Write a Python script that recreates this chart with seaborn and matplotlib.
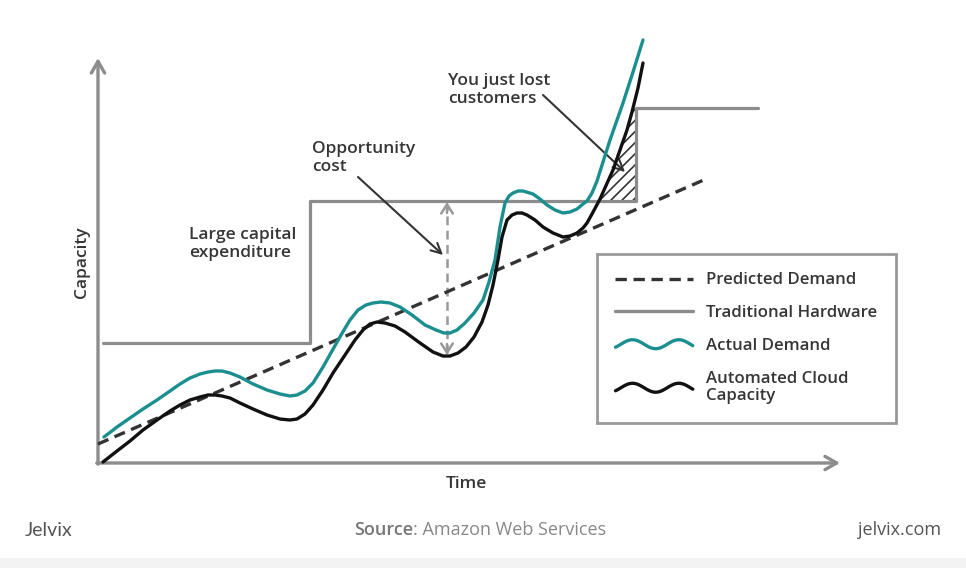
import numpy as np
import pandas as pd
import matplotlib
matplotlib.use("Agg")
import matplotlib.pyplot as plt
import seaborn as sns
from matplotlib.lines import Line2D
from matplotlib.legend_handler import HandlerBase

# ---------------- data (time units, capacity units) ----------------
time_actual = [6, 19, 32, 45, 59, 72, 82, 92, 102, 110, 117, 124, 132, 142, 155, 169, 182,
               192, 199, 207, 215, 225, 234, 243, 252, 260, 268, 275, 283, 292, 302, 314,
               327, 338, 346, 352, 359, 367, 376, 385, 391, 397, 402, 407, 411, 415, 420,
               425, 435, 442, 449, 457, 465, 472, 479, 485, 489, 494, 499, 505, 512, 525,
               535, 545]
cap_actual = [26, 36, 45, 54, 63, 72, 79, 85, 89, 91, 92, 92, 90, 86, 79, 73, 69,
              67, 68, 72, 80, 96, 112, 128, 143, 153, 158, 160, 161, 160, 156, 148,
              138, 133, 130, 130, 133, 140, 150, 163, 181, 203, 236, 260, 267, 270, 272,
              272, 269, 264, 258, 253, 250, 251, 254, 259, 262, 270, 282, 301, 323, 360,
              391, 423]

time_cloud = [5, 19, 32, 45, 59, 72, 82, 92, 102, 110, 117, 124, 132, 142, 155, 169, 182,
              192, 199, 207, 215, 225, 235, 247, 257, 265, 272, 279, 287, 297, 307, 322,
              335, 345, 352, 360, 368, 376, 384, 390, 395, 400, 404, 409, 414, 419, 424,
              429, 437, 445, 455, 465, 472, 479, 485, 489, 494, 502, 515, 522, 529, 534,
              540, 545]
cap_cloud = [1, 12, 22, 33, 43, 52, 58, 63, 66, 68, 68, 67, 65, 60, 54, 48, 44,
             43, 44, 49, 58, 73, 90, 108, 123, 133, 139, 141, 140, 137, 131, 120,
             111, 107, 107, 110, 116, 126, 141, 158, 178, 203, 226, 243, 248, 250, 250,
             248, 243, 236, 230, 226, 227, 230, 235, 240, 249, 264, 293, 313, 333, 351,
             375, 400]

time_pred = [0, 608]
cap_pred = [19, 284]

time_hw = [5, 212, 212, 538, 538, 660]
cap_hw = [120, 120, 262, 262, 355, 355]

legend_labels = ["Predicted Demand", "Traditional Hardware", "Actual Demand",
                 "Automated Cloud\nCapacity"]

TEAL = "#1b8f8f"
BLACK = "#111111"
GRAY = "#8c8c8c"
TXT = "#363636"

sns.set_theme(style="white")
plt.rcParams["font.family"] = ["Open Sans", "DejaVu Sans"]
plt.rcParams["hatch.linewidth"] = 1.2

fig = plt.figure(figsize=(9.66, 5.68), dpi=100)
fig.patch.set_facecolor("white")
ax = fig.add_axes([0, 0, 1, 1])
ax.set_xlim(-98, 868)
ax.set_ylim(-105, 463)
ax.axis("off")

# footer strip
ax.axhspan(-105, -95, color="#f3f3f3", zorder=0, lw=0)

# axes arrows
arrow_kw = dict(arrowstyle="->,head_length=0.7,head_width=0.4", color=GRAY, lw=2.4,
                shrinkA=0, shrinkB=0)
ax.annotate("", xy=(0, 405), xytext=(0, -1.2), arrowprops=arrow_kw)
ax.annotate("", xy=(742, 0), xytext=(-1.2, 0), arrowprops=arrow_kw)

df_act = pd.DataFrame({"time": time_actual, "cap": cap_actual})
df_cloud = pd.DataFrame({"time": time_cloud, "cap": cap_cloud})
df_pred = pd.DataFrame({"time": time_pred, "cap": cap_pred})
df_hw = pd.DataFrame({"time": time_hw, "cap": cap_hw})

# hatched region (lost customers): between cloud capacity and hardware step
tail = slice(time_cloud.index(465), None)
ys = np.linspace(cap_hw[2], cap_hw[4], 100)
xs = np.interp(ys, cap_cloud[tail], time_cloud[tail])
ax.fill_betweenx(ys, xs, time_hw[3], facecolor="none", edgecolor="#333333",
                 hatch="///", linewidth=0, zorder=1)

sns.lineplot(data=df_hw, x="time", y="cap", ax=ax, color=GRAY, lw=2.3,
             estimator=None, sort=False, legend=False, zorder=2)
sns.lineplot(data=df_pred, x="time", y="cap", ax=ax, color="#333333", lw=2.4,
             legend=False, zorder=3)
ax.lines[-1].set_dashes((3.4, 2.0))
sns.lineplot(data=df_act, x="time", y="cap", ax=ax, color=TEAL, lw=2.4,
             estimator=None, sort=False, legend=False, zorder=4)
sns.lineplot(data=df_cloud, x="time", y="cap", ax=ax, color=BLACK, lw=2.4,
             estimator=None, sort=False, legend=False, zorder=5)
for ln in ax.lines[-2:]:
    ln.set_solid_joinstyle("round")

# opportunity cost dashed double arrow
ax.plot([349, 349], [110, 259], color="#999999", lw=1.8, dashes=(3.5, 2.2), zorder=2)
head_kw = dict(arrowstyle="->,head_length=0.55,head_width=0.35", color="#999999", lw=1.8,
               shrinkA=0, shrinkB=0)
ax.annotate("", xy=(349, 261), xytext=(349, 250), arrowprops=head_kw)
ax.annotate("", xy=(349, 108), xytext=(349, 119), arrowprops=head_kw)

# annotations
fs = 12.5
wt = "semibold"
ax.text(91, 219, "Large capital\nexpenditure", fontsize=fs, color=TXT, ha="left",
        va="center", linespacing=1.1, fontweight=wt)
ax.text(214, 305, "Opportunity\ncost", fontsize=fs, color=TXT, ha="left",
        va="center", linespacing=1.1, fontweight=wt)
ax.text(350, 373, "You just lost\ncustomers", fontsize=fs, color=TXT, ha="left",
        va="center", linespacing=1.1, fontweight=wt)
pointer = dict(arrowstyle="->,head_length=0.6,head_width=0.3", color="#333333", lw=1.5,
               shrinkA=0, shrinkB=0)
ax.annotate("", xy=(345, 208), xytext=(260, 286), arrowprops=pointer)
ax.annotate("", xy=(527, 291), xytext=(445, 368), arrowprops=pointer)

# axis labels
ax.text(-16, 201, "Capacity", rotation=90, fontsize=fs, color=TXT, ha="center", va="center",
        fontweight=wt)
ax.text(368, -21, "Time", fontsize=fs, color=TXT, ha="center", va="center",
        fontweight=wt)

# legend with wavy handles
class WavyHandler(HandlerBase):
    def create_artists(self, legend, orig_handle, xdescent, ydescent, width, height,
                       fontsize, trans):
        t = np.linspace(0, 1, 80)
        x = -xdescent + width * t
        y = -ydescent + height / 2 + height * 0.38 * np.sin(2 * np.pi * 1.67 * t - 0.74)
        ln = Line2D(x, y, color=orig_handle.get_color(), lw=orig_handle.get_linewidth(),
                    solid_capstyle="round")
        ln.set_transform(trans)
        return [ln]

h_pred = Line2D([], [], color="#333333", lw=2.4, dashes=(3.4, 2.0))
h_hw = Line2D([], [], color=GRAY, lw=2.4)
h_act = Line2D([], [], color=TEAL, lw=2.4)
h_cloud = Line2D([], [], color=BLACK, lw=2.4)
leg = ax.legend([h_pred, h_hw, h_act, h_cloud], legend_labels,
                handler_map={h_act: WavyHandler(), h_cloud: WavyHandler()},
                loc="upper left", bbox_to_anchor=(597 / 966, 1 - 254 / 568),
                bbox_transform=fig.transFigure, borderaxespad=0, frameon=True,
                fancybox=False, framealpha=1, borderpad=1.1, labelspacing=1.0,
                handlelength=4.6, handletextpad=0.8, prop={"size": 12.1, "weight": wt})
leg.get_frame().set_edgecolor("#999999")
leg.get_frame().set_linewidth(2.0)
for t in leg.get_texts():
    t.set_color(TXT)
    t.set_linespacing(1.12)

# footer
ax.text(-73, -67, "Jelvix", fontsize=14, color="#555555", ha="left", va="center",
        fontweight="normal", family=["Lato", "DejaVu Sans"])
ax.text(315, -67, "Source", fontsize=13, color="#777777", ha="right", va="center",
        fontweight="semibold")
ax.text(315, -67, ": Amazon Web Services", fontsize=13, color="#888888", ha="left",
        va="center")
ax.text(843, -67, "jelvix.com", fontsize=13, color="#555555", ha="right", va="center")

fig.savefig("out.png", dpi=100, facecolor="white")
